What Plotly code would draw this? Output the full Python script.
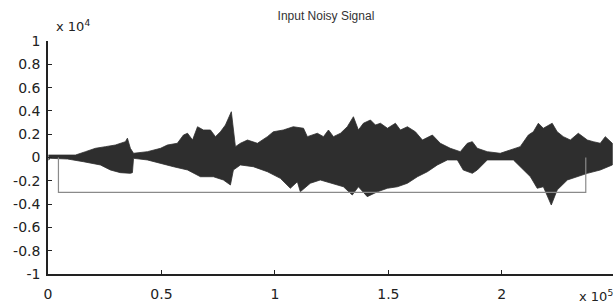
import plotly.graph_objects as go

# Sample index (x 1e5) and amplitude (x 1e4), upper envelope of waveform
x_upper = [0.002, 0.055, 0.121, 0.165, 0.209, 0.253, 0.297, 0.341, 0.350, 0.363, 0.377,
           0.438, 0.496, 0.526, 0.570, 0.597, 0.615, 0.637, 0.659, 0.685, 0.716, 0.738,
           0.760, 0.782, 0.808, 0.826, 0.848, 0.879, 0.923, 0.967, 0.993, 1.037, 1.081,
           1.126, 1.143, 1.187, 1.214, 1.236, 1.258, 1.289, 1.319, 1.346, 1.368, 1.390,
           1.421, 1.443, 1.465, 1.496, 1.531, 1.553, 1.584, 1.619, 1.650, 1.694, 1.729,
           1.773, 1.817, 1.848, 1.870, 1.892, 1.936, 1.993, 2.037, 2.081, 2.117, 2.139,
           2.161, 2.183, 2.222, 2.244, 2.271, 2.302, 2.337, 2.377, 2.403, 2.434, 2.456, 2.487]
y_upper = [0.021, 0.021, 0.021, 0.050, 0.079, 0.093, 0.107, 0.136, 0.166, 0.079, 0.036,
           0.050, 0.079, 0.107, 0.122, 0.193, 0.208, 0.150, 0.264, 0.236, 0.236, 0.179,
           0.221, 0.279, 0.393, 0.093, 0.122, 0.150, 0.122, 0.179, 0.221, 0.236, 0.264,
           0.251, 0.179, 0.208, 0.179, 0.236, 0.179, 0.208, 0.264, 0.350, 0.236, 0.294,
           0.322, 0.279, 0.294, 0.251, 0.294, 0.236, 0.264, 0.221, 0.150, 0.193, 0.122,
           0.079, 0.050, 0.122, 0.136, 0.079, 0.050, 0.036, 0.064, 0.093, 0.193, 0.221,
           0.294, 0.251, 0.294, 0.221, 0.179, 0.150, 0.208, 0.150, 0.136, 0.122, 0.179, 0.122]

# Lower envelope of waveform
x_lower = [0.002, 0.011, 0.086, 0.156, 0.231, 0.275, 0.319, 0.363, 0.372, 0.377, 0.438,
           0.496, 0.553, 0.615, 0.672, 0.729, 0.773, 0.804, 0.817, 0.848, 0.905, 0.967,
           1.024, 1.068, 1.099, 1.112, 1.156, 1.200, 1.244, 1.302, 1.341, 1.368, 1.407,
           1.452, 1.496, 1.540, 1.584, 1.628, 1.672, 1.716, 1.760, 1.804, 1.830, 1.870,
           1.892, 1.936, 2.051, 2.081, 2.126, 2.156, 2.183, 2.218, 2.244, 2.289, 2.333,
           2.377, 2.434, 2.487]
y_lower = [-0.021, -0.007, -0.013, -0.036, -0.064, -0.107, -0.130, -0.136, -0.130, -0.007, -0.021,
           -0.050, -0.079, -0.107, -0.165, -0.165, -0.193, -0.236, -0.107, -0.064, -0.079, -0.122,
           -0.179, -0.264, -0.208, -0.294, -0.221, -0.193, -0.221, -0.251, -0.322, -0.251, -0.336,
           -0.294, -0.264, -0.251, -0.221, -0.165, -0.122, -0.064, -0.021, -0.021, -0.107, -0.136,
           -0.107, -0.021, -0.021, -0.079, -0.165, -0.264, -0.251, -0.408, -0.279, -0.193, -0.165,
           -0.136, -0.107, -0.064]

# Speech-detection window line
x_window = [0.046, 0.046, 2.370, 2.370]
y_window = [0.0, -0.30, -0.30, 0.0]

x_ticks = [0, 0.5, 1, 1.5, 2]
x_tick_labels = ["0", "0.5", "1", "1.5", "2"]
y_ticks = [1, 0.8, 0.6, 0.4, 0.2, 0, -0.2, -0.4, -0.6, -0.8, -1]
y_tick_labels = ["1", "0.8", "0.6", "0.4", "0.2", "0", "-0.2", "-0.4", "-0.6", "-0.8", "-1"]

fig = go.Figure()
fig.add_trace(go.Scatter(
    x=x_upper + x_lower[::-1], y=y_upper + y_lower[::-1],
    fill="toself", fillcolor="#2e2e2e", mode="lines",
    line=dict(color="#2e2e2e", width=0.8), hoverinfo="skip", showlegend=False))
fig.add_trace(go.Scatter(
    x=x_window, y=y_window, mode="lines",
    line=dict(color="#8a8a8a", width=1.2), showlegend=False))

font_family = "DejaVu Sans, Liberation Sans, Arial, sans-serif"
fig.update_layout(
    width=615, height=307,
    margin=dict(l=48, r=2, t=41, b=33),
    paper_bgcolor="white", plot_bgcolor="white",
    font=dict(family=font_family, size=14, color="#222222"),
    title=dict(text="Input Noisy Signal", x=0.53, xanchor="center",
               y=0.95, yanchor="middle",
               font=dict(family="Liberation Sans, Arial, sans-serif", size=12, color="#333333")),
    xaxis=dict(range=[0, 2.49], tickvals=x_ticks, ticktext=x_tick_labels,
               ticks="inside", ticklen=4, tickcolor="#222", showgrid=False, zeroline=False,
               showline=True, linecolor="#222", linewidth=1.5, mirror=False,
               ticklabelstandoff=6),
    yaxis=dict(range=[-1, 1], tickvals=y_ticks, ticktext=y_tick_labels,
               ticks="inside", ticklen=4, tickcolor="#222", showgrid=False, zeroline=False,
               showline=True, linecolor="#222", linewidth=1.5, mirror=False,
               ticklabelstandoff=3),
    annotations=[
        dict(text="x 10<sup>4</sup>", xref="paper", yref="paper", x=0.01, y=1.065,
             xanchor="left", yanchor="middle", showarrow=False, font=dict(size=13)),
        dict(text="x 10<sup>5</sup>", xref="paper", yref="paper", x=1.004, y=-0.095,
             xanchor="right", yanchor="middle", showarrow=False, font=dict(size=13)),
    ],
)
fig.write_html("out.html", post_script="document.body.style.margin='0';",
               config={"displayModeBar": False})
